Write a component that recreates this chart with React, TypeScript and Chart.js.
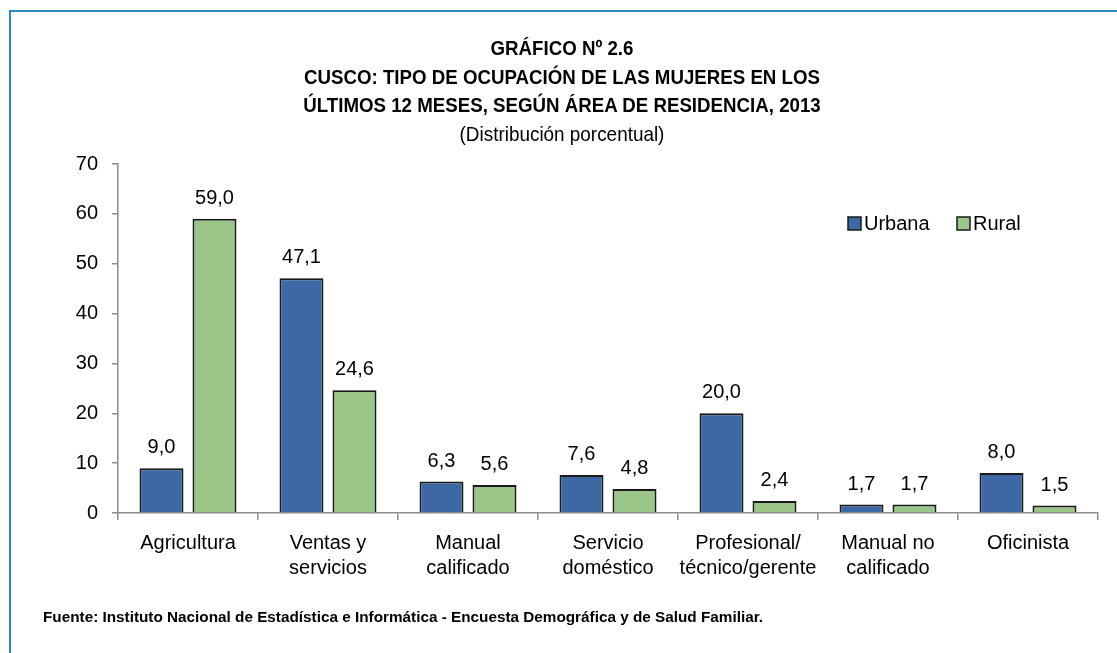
import React, { useEffect, useRef } from 'react';
import { Chart, registerables } from 'chart.js';

Chart.register(...registerables);

const categories: string[][] = [
  ['Agricultura'],
  ['Ventas y', 'servicios'],
  ['Manual', 'calificado'],
  ['Servicio', 'doméstico'],
  ['Profesional/', 'técnico/gerente'],
  ['Manual no', 'calificado'],
  ['Oficinista'],
];
const urbana = [9.0, 47.1, 6.3, 7.6, 20.0, 1.7, 8.0];
const rural = [59.0, 24.6, 5.6, 4.8, 2.4, 1.7, 1.5];
const seriesNames = ['Urbana', 'Rural'];
const seriesColors = ['#3c69a4', '#9bc68a'];
const yMax = 70;
const yStep = 10;
const titleLines = [
  'GRÁFICO Nº 2.6',
  'CUSCO: TIPO DE OCUPACIÓN DE LAS MUJERES EN LOS',
  'ÚLTIMOS 12 MESES, SEGÚN ÁREA DE RESIDENCIA, 2013',
];
const subtitle = '(Distribución porcentual)';
const source =
  'Fuente: Instituto Nacional de Estadística e Informática - Encuesta Demográfica y de Salud Familiar.';

const FONT = "'Liberation Sans Narrow', 'Arial Narrow', 'Liberation Sans', Arial, sans-serif";

const valueLabels = {
  id: 'valueLabels',
  afterDatasetsDraw(chart: any) {
    const ctx = chart.ctx;
    ctx.save();
    ctx.font = `20px ${FONT}`;
    ctx.fillStyle = '#000';
    ctx.textAlign = 'center';
    ctx.textBaseline = 'alphabetic';
    chart.data.datasets.forEach((ds: any, i: number) => {
      const meta = chart.getDatasetMeta(i);
      meta.data.forEach((bar: any, j: number) => {
        const v = ds.data[j] as number;
        ctx.fillText(v.toFixed(1).replace('.', ','), bar.x, bar.y - 15);
      });
    });
    ctx.restore();
  },
};

const customLegend = {
  id: 'customLegend',
  afterDraw(chart: any) {
    const ctx = chart.ctx;
    ctx.save();
    ctx.font = `20px ${FONT}`;
    ctx.textBaseline = 'middle';
    ctx.textAlign = 'left';
    const starts = [848, 957];
    const cy = 223;
    chart.data.datasets.forEach((ds: any, i: number) => {
      const x = starts[i];
      ctx.fillStyle = ds.backgroundColor;
      ctx.fillRect(x, cy - 6, 13, 13);
      ctx.strokeStyle = '#1a1a1a';
      ctx.lineWidth = 1.5;
      ctx.strokeRect(x, cy - 6, 13, 13);
      ctx.fillStyle = '#000';
      ctx.fillText(ds.label, x + 16, cy + 1);
    });
    ctx.restore();
  },
};

export default function App() {
  const ref = useRef<HTMLCanvasElement | null>(null);

  useEffect(() => {
    document.body.style.margin = '0';
    if (!ref.current) return;
    const chart = new Chart(ref.current, {
      type: 'bar',
      data: {
        labels: categories,
        datasets: [
          {
            label: seriesNames[0],
            data: urbana,
            backgroundColor: seriesColors[0],
            borderColor: '#1a1a1a',
            borderWidth: 2,
            categoryPercentage: 0.757,
            barPercentage: 0.83,
          },
          {
            label: seriesNames[1],
            data: rural,
            backgroundColor: seriesColors[1],
            borderColor: '#1a1a1a',
            borderWidth: 2,
            categoryPercentage: 0.757,
            barPercentage: 0.83,
          },
        ],
      },
      options: {
        animation: false,
        responsive: false,
        devicePixelRatio: 1,
        layout: { padding: { top: 164, right: 19, left: 0, bottom: 0 } },
        plugins: {
          legend: { display: false },
          title: { display: false },
          tooltip: { enabled: false },
        },
        scales: {
          x: {
            grid: {
              offset: true,
              drawOnChartArea: false,
              drawTicks: true,
              tickLength: 7,
              color: '#8c8c8c',
              lineWidth: 1.5,
            },
            border: { color: '#8c8c8c', width: 1.5 },
            ticks: {
              color: '#000',
              font: { family: FONT, size: 20, lineHeight: 1.25 },
              padding: 11,
              maxRotation: 0,
              autoSkip: false,
            },
            afterFit(scale: any) {
              scale.height = 140;
            },
          },
          y: {
            min: 0,
            max: yMax,
            ticks: {
              stepSize: yStep,
              color: '#000',
              font: { family: FONT, size: 20 },
              padding: 14,
            },
            grid: {
              drawOnChartArea: false,
              drawTicks: true,
              tickLength: 6,
              color: '#8c8c8c',
              lineWidth: 1.5,
            },
            border: { color: '#8c8c8c', width: 1.5 },
            afterFit(scale: any) {
              scale.width = 118;
            },
          },
        },
      },
      plugins: [valueLabels, customLegend],
    });
    return () => chart.destroy();
  }, []);

  const titleStyle = (cy: number, bold: boolean): React.CSSProperties => ({
    position: 'absolute',
    left: 0,
    width: 1124,
    top: cy - 14,
    height: 28,
    lineHeight: '28px',
    textAlign: 'center',
    fontFamily: FONT,
    fontSize: bold ? 20 : 21,
    fontWeight: bold ? 'bold' : 'normal',
    color: '#000',
    whiteSpace: 'nowrap',
    transform: bold ? 'scaleX(0.935)' : 'scaleX(0.9)',
    transformOrigin: '562px 50%',
  });

  const titleYs = [48, 77, 105];

  return (
    <div
      style={{
        position: 'fixed',
        left: 0,
        top: 0,
        width: 1117,
        height: 653,
        overflow: 'hidden',
        background: '#fff',
      }}
    >
      <canvas ref={ref} width={1117} height={653} style={{ position: 'absolute', left: 0, top: 0 }} />
      <div
        style={{
          position: 'absolute',
          left: 9,
          top: 10,
          width: 1300,
          height: 900,
          border: '2px solid #2a8ac4',
          pointerEvents: 'none',
        }}
      />
      {titleLines.map((t, i) => (
        <div key={i} style={titleStyle(titleYs[i], true)}>
          {t}
        </div>
      ))}
      <div style={titleStyle(134, false)}>{subtitle}</div>
      <div
        style={{
          position: 'absolute',
          left: 43,
          top: 608,
          lineHeight: '18px',
          fontFamily: FONT,
          fontSize: 15.3,
          fontWeight: 'bold',
          color: '#000',
          whiteSpace: 'nowrap',
        }}
      >
        {source}
      </div>
    </div>
  );
}
